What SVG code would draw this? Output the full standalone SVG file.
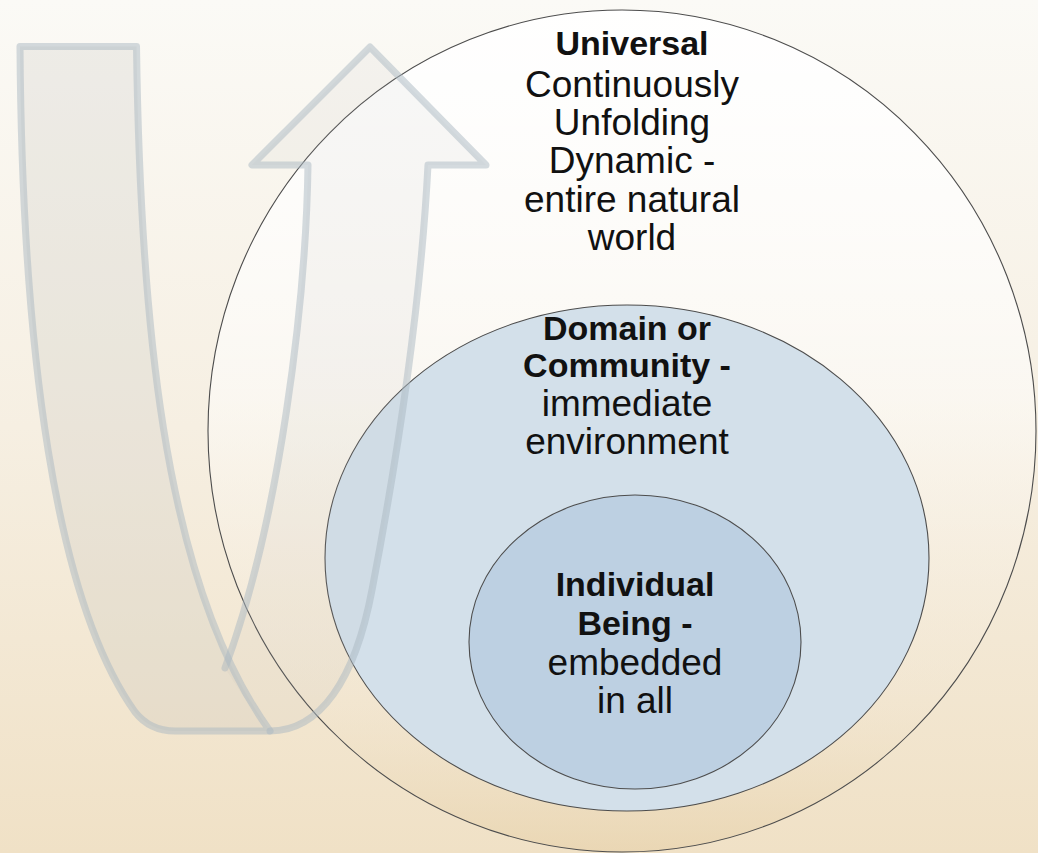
<svg xmlns="http://www.w3.org/2000/svg" width="1038" height="853" viewBox="0 0 1038 853">
  <defs>
    <linearGradient id="bg" x1="0" y1="0" x2="0" y2="1">
      <stop offset="0" stop-color="#fbfaf6"/>
      <stop offset="0.5" stop-color="#f6efe2"/>
      <stop offset="1" stop-color="#f0e1c6"/>
    </linearGradient>
    <linearGradient id="outerFill" x1="0" y1="0" x2="0" y2="1">
      <stop offset="0" stop-color="#ffffff" stop-opacity="0.95"/>
      <stop offset="0.45" stop-color="#ffffff" stop-opacity="0.5"/>
      <stop offset="0.8" stop-color="#f3e8d5" stop-opacity="0.3"/>
      <stop offset="1" stop-color="#e6d0a8" stop-opacity="0.6"/>
    </linearGradient>
  </defs>
  <style>
    .ring { stroke: #4d4d4d; stroke-width: 1.1; }
    .band { fill: rgb(190,190,185); fill-opacity: 0.22; }
    .back { fill: rgb(190,190,185); fill-opacity: 0.1; }
    .edge { fill: none; stroke: #a9b8c2; stroke-opacity: 0.5; stroke-width: 7; stroke-linejoin: round; stroke-linecap: round; }
    text { font-family: "Liberation Sans", Arial, sans-serif; fill: #111111; text-anchor: middle; }
    .h { font-weight: bold; font-size: 34px; }
    .b { font-size: 37px; }
  </style>

  <rect x="0" y="0" width="1038" height="853" fill="url(#bg)"/>

  <!-- nested levels -->
  <g id="universal">
    <ellipse class="ring" cx="622" cy="431" rx="414" ry="421" fill="url(#outerFill)"/>
    <text class="h" x="632" y="55">Universal</text>
    <text class="b" x="632" y="97">Continuously</text>
    <text class="b" x="632" y="135">Unfolding</text>
    <text class="b" x="632" y="173">Dynamic -</text>
    <text class="b" x="632" y="212">entire natural</text>
    <text class="b" x="632" y="250">world</text>
  </g>

  <g id="domain">
    <ellipse class="ring" cx="627" cy="558" rx="302" ry="253" fill="#d3e0ea"/>
    <text class="h" x="627" y="340">Domain or</text>
    <text class="h" x="627" y="377">Community -</text>
    <text class="b" x="627" y="416">immediate</text>
    <text class="b" x="627" y="454">environment</text>
  </g>

  <g id="individual">
    <ellipse class="ring" cx="635" cy="642" rx="166" ry="147" fill="#bdd0e2"/>
    <text class="h" x="635" y="596">Individual</text>
    <text class="h" x="635" y="635">Being -</text>
    <text class="b" x="635" y="675">embedded</text>
    <text class="b" x="635" y="713">in all</text>
  </g>

  <!-- U-turn arrow -->
  <g id="connectors">
    <path class="back" d="M270,731 C320,731 355,680 372,590 C395,470 420,320 428,165 L486,165 L370,47 L252,165 L308,165 C306,300 280,520 225,668 Q248,705 270,731 Z"/>
    <path class="edge" d="M270,731 C320,731 355,680 372,590 C395,470 420,320 428,165 L486,165 L370,47 L252,165 L308,165 C306,300 280,520 225,668"/>
    <path class="band" d="M20,46.5 L136.5,46.5 C140,300 160,580 270,731 L175,731 Q150,731 135,712 C55,600 22,350 20,46.5 Z"/>
    <path class="edge" d="M20,46.5 L136.5,46.5 C140,300 160,580 270,731 L175,731 Q150,731 135,712 C55,600 22,350 20,46.5 Z"/>
  </g>
</svg>
